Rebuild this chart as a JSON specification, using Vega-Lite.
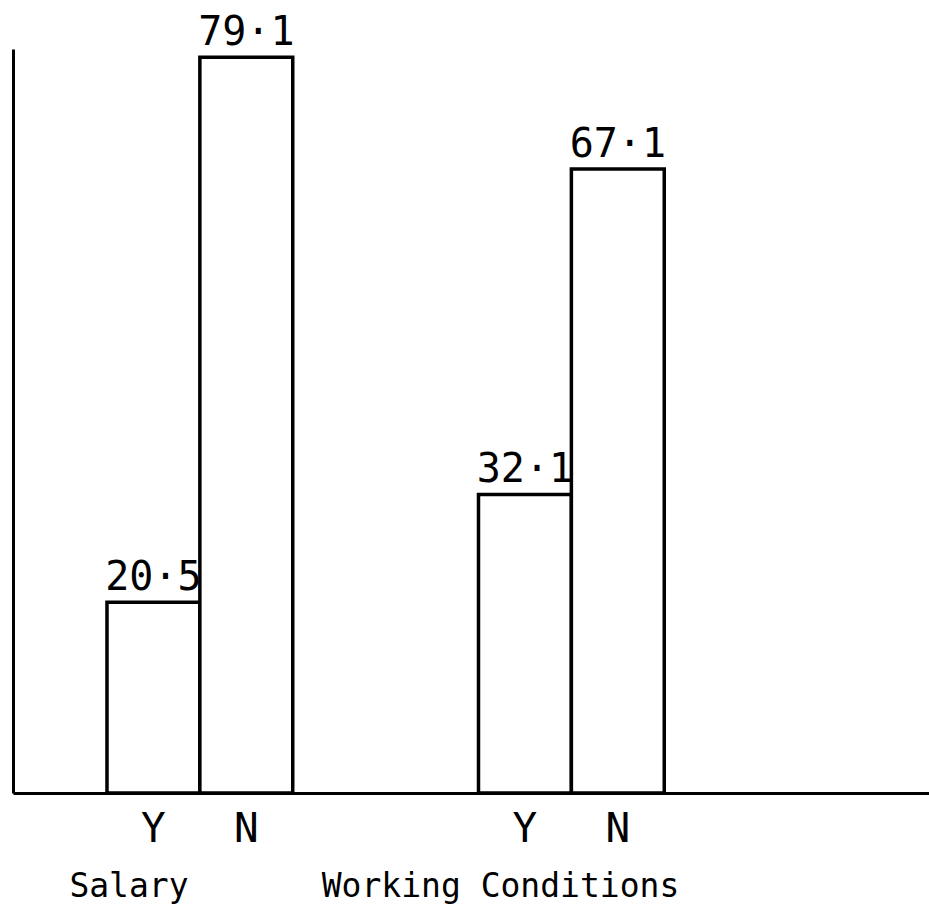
{
  "$schema": "https://vega.github.io/schema/vega-lite/v6.json",
  "width": 916,
  "height": 744,
  "autosize": {"type": "none"},
  "padding": {"left": 13, "top": 49, "right": 0, "bottom": 130},
  "background": "white",
  "config": {"view": {"stroke": null}, "font": "DejaVu Sans Mono"},
  "data": {
    "values": [
      {"group": "Salary", "answer": "Y", "pct": 20.5, "label": "20·5"},
      {"group": "Salary", "answer": "N", "pct": 79.1, "label": "79·1"},
      {"group": "Working Conditions", "answer": "Y", "pct": 32.1, "label": "32·1"},
      {"group": "Working Conditions", "answer": "N", "pct": 67.1, "label": "67·1"}
    ]
  },
  "encoding": {
    "x": {
      "field": "group",
      "type": "nominal",
      "scale": {"domain": ["Salary", "Working Conditions"], "paddingInner": 0.5, "paddingOuter": 0.4828, "align": 0.262},
      "axis": {"title": null, "labels": false, "ticks": false, "domainColor": "black", "domainWidth": 3, "grid": false}
    },
    "xOffset": {
      "field": "answer",
      "type": "nominal",
      "scale": {"domain": ["Y", "N"], "paddingInner": 0, "paddingOuter": 0}
    }
  },
  "layer": [
    {
      "mark": {"type": "bar", "fill": "white", "stroke": "black", "strokeWidth": 3.5, "strokeJoin": "miter"},
      "encoding": {
        "y": {
          "field": "pct",
          "type": "quantitative",
          "scale": {"domain": [0, 80], "nice": false},
          "axis": {"title": null, "labels": false, "ticks": false, "grid": false, "domainColor": "black", "domainWidth": 3}
        }
      }
    },
    {
      "mark": {"type": "text", "fontSize": 40, "baseline": "alphabetic", "align": "center", "dy": -12, "color": "black"},
      "encoding": {
        "y": {"field": "pct", "type": "quantitative"},
        "text": {"field": "label"}
      }
    },
    {
      "mark": {"type": "text", "fontSize": 41, "baseline": "middle", "align": "center", "dy": 37, "color": "black"},
      "encoding": {
        "y": {"datum": 0, "type": "quantitative"},
        "text": {"field": "answer"}
      }
    },
    {
      "transform": [{"filter": "datum.answer === 'Y'"}],
      "mark": {"type": "text", "fontSize": 33, "baseline": "alphabetic", "align": "center", "dy": 104, "dx": 22, "color": "black"},
      "encoding": {
        "xOffset": {"value": 0},
        "y": {"datum": 0, "type": "quantitative"},
        "text": {"field": "group"}
      }
    }
  ]
}
